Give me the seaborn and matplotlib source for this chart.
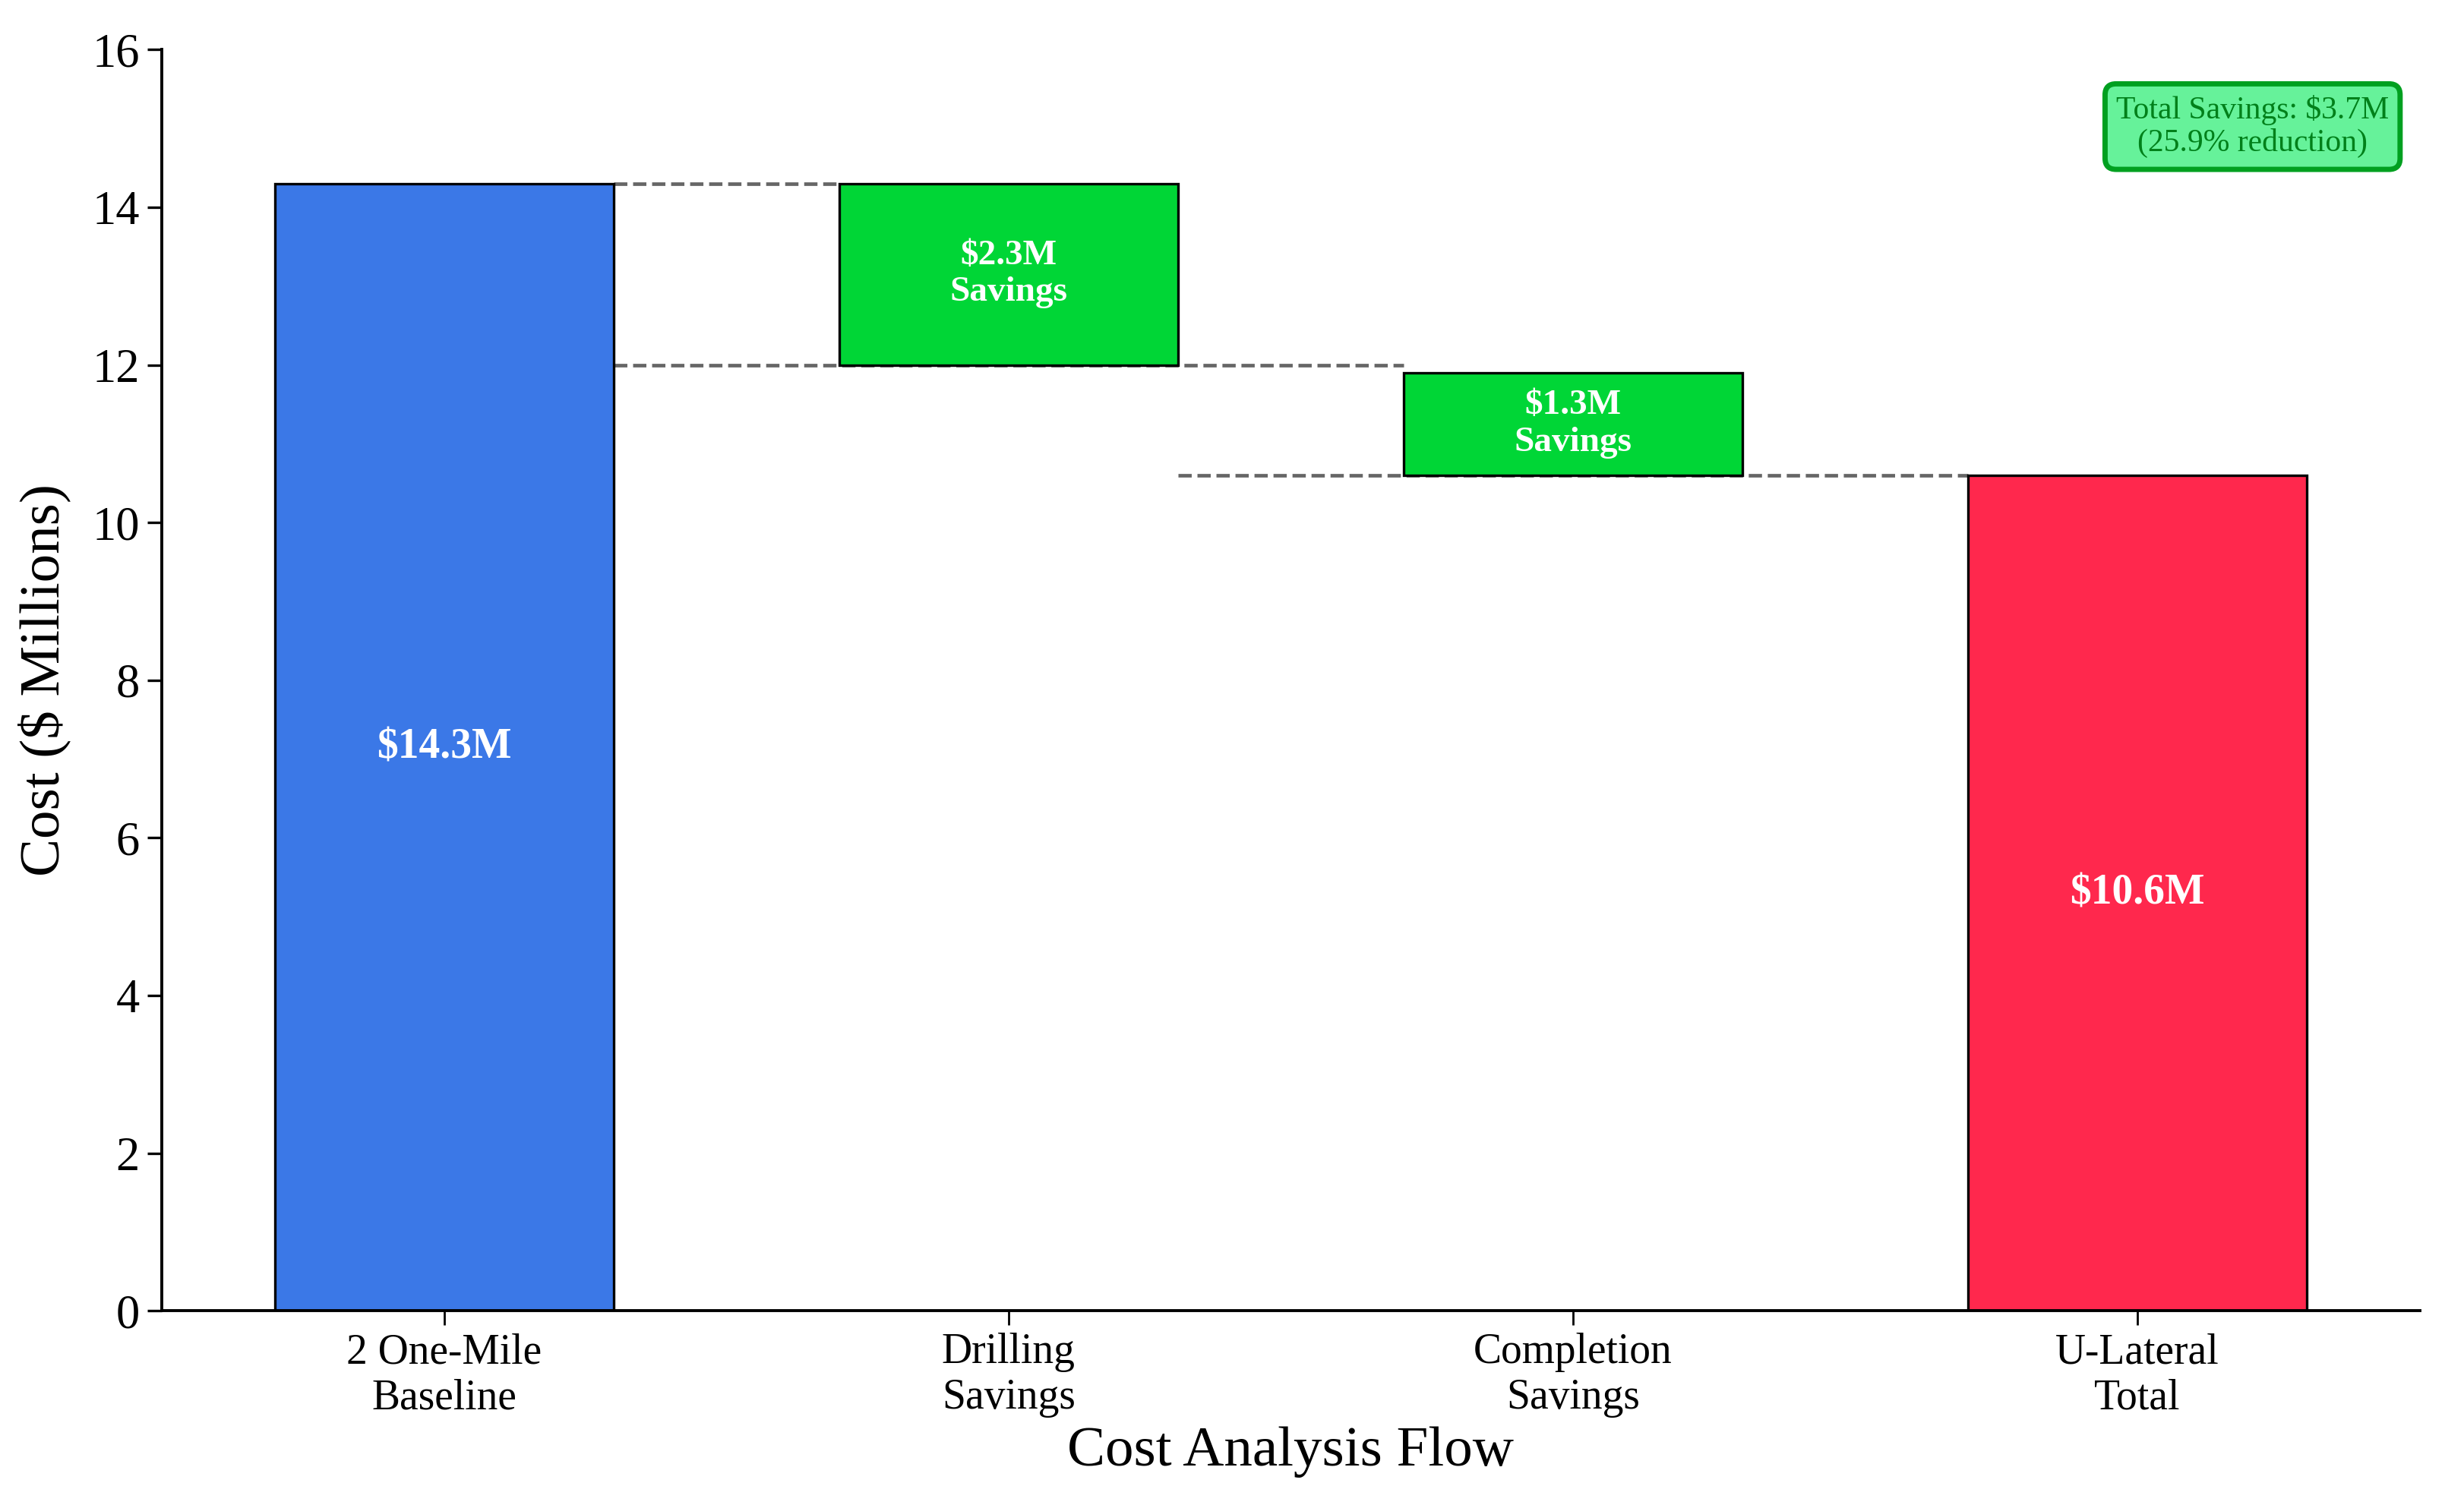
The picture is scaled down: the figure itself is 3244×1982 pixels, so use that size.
import numpy as np
import matplotlib
matplotlib.use("Agg")
import matplotlib.pyplot as plt
import seaborn as sns

# Datos del flujo de costos ($ millones)
stages = ["2 One-Mile\nBaseline", "Drilling\nSavings", "Completion\nSavings", "U-Lateral\nTotal"]
baseline_cost = 14.3
drilling_savings = 2.3
completion_savings = 1.3
u_lateral_total = 10.6

heights = [baseline_cost, drilling_savings, completion_savings, u_lateral_total]
bottoms = [0, baseline_cost - drilling_savings, u_lateral_total, 0]
bar_colors = ["#3b78e7", "#00d636", "#00d636", "#ff284d"]
bar_labels = [f"${baseline_cost}M", f"${drilling_savings}M\nSavings",
              f"${completion_savings}M\nSavings", f"${u_lateral_total}M"]

total_savings = baseline_cost - u_lateral_total
pct_reduction = total_savings / baseline_cost * 100

sns.set_style("ticks", {"axes.edgecolor": "black", "text.color": "black",
                        "axes.labelcolor": "black", "xtick.color": "black",
                        "ytick.color": "black"})
plt.rcParams['font.family'] = ['Liberation Serif', 'DejaVu Serif']

fig, ax = plt.subplots(figsize=(16.22, 9.91), dpi=200)
fig.subplots_adjust(left=0.0657, right=0.982, top=0.967, bottom=0.129)

# Lineas de conexion (detras de las barras)
ax.plot([0.3, 0.7], [baseline_cost, baseline_cost], ls="--", color="#666666", lw=1.7, zorder=1)
ax.plot([0.3, 1.7], [bottoms[1], bottoms[1]], ls="--", color="#666666", lw=1.7, zorder=1)
ax.plot([1.3, 2.7], [u_lateral_total, u_lateral_total], ls="--", color="#666666", lw=1.7, zorder=1)

sns.barplot(x=stages, y=heights, bottom=bottoms, color=bar_colors[0], width=0.6,
            edgecolor="black", linewidth=1.2, saturation=1, ax=ax, zorder=2)
for patch, c in zip(ax.patches, bar_colors):
    patch.set_facecolor(c)

# Etiquetas dentro de las barras
for i, (h, b, lab) in enumerate(zip(heights, bottoms, bar_labels)):
    fs = 20 if i in (0, 3) else 17
    ax.text(i, b + h / 2, lab, ha="center", va="center", color="white",
            fontsize=fs, fontweight="bold", linespacing=1.2, zorder=3)

ax.text(0.926, 0.939, f"Total Savings: ${total_savings:.1f}M\n({pct_reduction:.1f}% reduction)",
        transform=ax.transAxes, ha="center", va="center", fontsize=15, color="#00801a",
        linespacing=1.15,
        bbox=dict(boxstyle="round,pad=0.35", facecolor="#66f29a", edgecolor="#00a020", linewidth=2.5))

ax.set_xlim(-0.5, 3.5)
ax.set_ylim(0, 16)
ax.set_yticks(np.arange(0, 17, 2))
ax.set_xlabel("Cost Analysis Flow", fontsize=27, labelpad=4)
ax.set_ylabel("Cost ($ Millions)", fontsize=27, labelpad=10)
ax.tick_params(axis="y", labelsize=22.5, length=7, width=1.2)
ax.tick_params(axis="x", labelsize=20, length=7, width=1.0)
for s in ["left", "bottom"]:
    ax.spines[s].set_linewidth(1.4)
sns.despine(ax=ax)

plt.savefig("out.png", dpi=200)
plt.close()
